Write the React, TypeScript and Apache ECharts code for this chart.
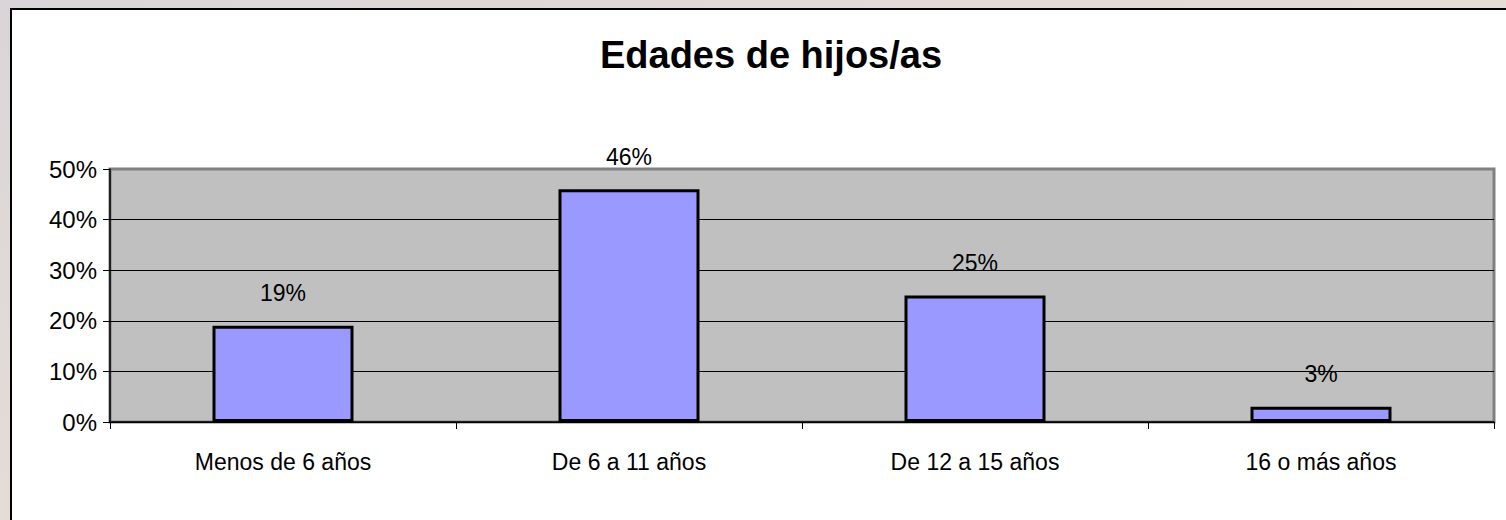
import React, { useEffect, useRef } from "react";
import * as echarts from "echarts";

const title = "Edades de hijos/as";
const categories = ["Menos de 6 años", "De 6 a 11 años", "De 12 a 15 años", "16 o más años"];
const values = [19, 46, 25, 3];
const yTicks = { min: 0, max: 50, interval: 10 };

export default function App() {
  const ref = useRef<HTMLDivElement>(null);
  useEffect(() => {
    if (!ref.current) return;
    const chart = echarts.init(ref.current, null, { renderer: "svg" });
    const font = "'Liberation Sans', Arial, sans-serif";
    chart.setOption({
      animation: false,
      backgroundColor: new echarts.graphic.LinearGradient(0, 0, 1, 1, [
        { offset: 0, color: "#d9d5d8" },
        { offset: 0.5, color: "#e6dcd6" },
        { offset: 1, color: "#fbf6e6" },
      ]),
      graphic: [
        {
          type: "rect",
          z: -10,
          silent: true,
          shape: { x: 11, y: 9, width: 1600, height: 600 },
          style: { fill: "#ffffff", stroke: "#000000", lineWidth: 2 },
        },
        {
          type: "text",
          z: 10,
          x: 771,
          y: 55,
          style: {
            text: title,
            fontSize: 38,
            fontWeight: "bold",
            fontFamily: font,
            fill: "#000000",
            align: "center",
            verticalAlign: "middle",
          },
        },
      ],
      grid: {
        left: 110,
        right: 12,
        top: 169,
        bottom: 98,
        show: true,
        backgroundColor: "#c0c0c0",
        borderColor: "#808080",
        borderWidth: 3,
        containLabel: false,
      },
      xAxis: {
        type: "category",
        data: categories,
        axisLine: { show: true, lineStyle: { color: "#000000", width: 1.5 } },
        axisTick: { show: true, length: 7, lineStyle: { color: "#000000", width: 1 } },
        axisLabel: { fontSize: 23, color: "#000000", fontFamily: font, margin: 28 },
        splitLine: { show: false },
      },
      yAxis: {
        type: "value",
        min: yTicks.min,
        max: yTicks.max,
        interval: yTicks.interval,
        axisLine: { show: true, lineStyle: { color: "#000000", width: 1.5 } },
        axisTick: { show: true, length: 7, lineStyle: { color: "#000000", width: 1 } },
        axisLabel: {
          fontSize: 24,
          color: "#000000",
          fontFamily: font,
          margin: 13,
          formatter: (v: number) => `${v}%`,
        },
        splitLine: {
          show: true,
          lineStyle: {
            color: ["#000000", "#000000", "#000000", "#000000", "#000000", "rgba(0,0,0,0)"],
            width: 1,
          },
        },
      },
      series: [
        {
          type: "bar",
          data: values,
          barWidth: 141,
          itemStyle: { color: "#9999ff", borderColor: "#000000", borderWidth: 3 },
          label: {
            show: true,
            position: "top",
            distance: 21,
            fontSize: 23,
            color: "#000000",
            fontFamily: font,
            formatter: (p: any) => `${p.value}%`,
          },
        },
      ],
    });
    return () => chart.dispose();
  }, []);
  return (
    <div
      ref={ref}
      style={{ position: "absolute", left: 0, top: 0, width: 1506, height: 520 }}
    />
  );
}
